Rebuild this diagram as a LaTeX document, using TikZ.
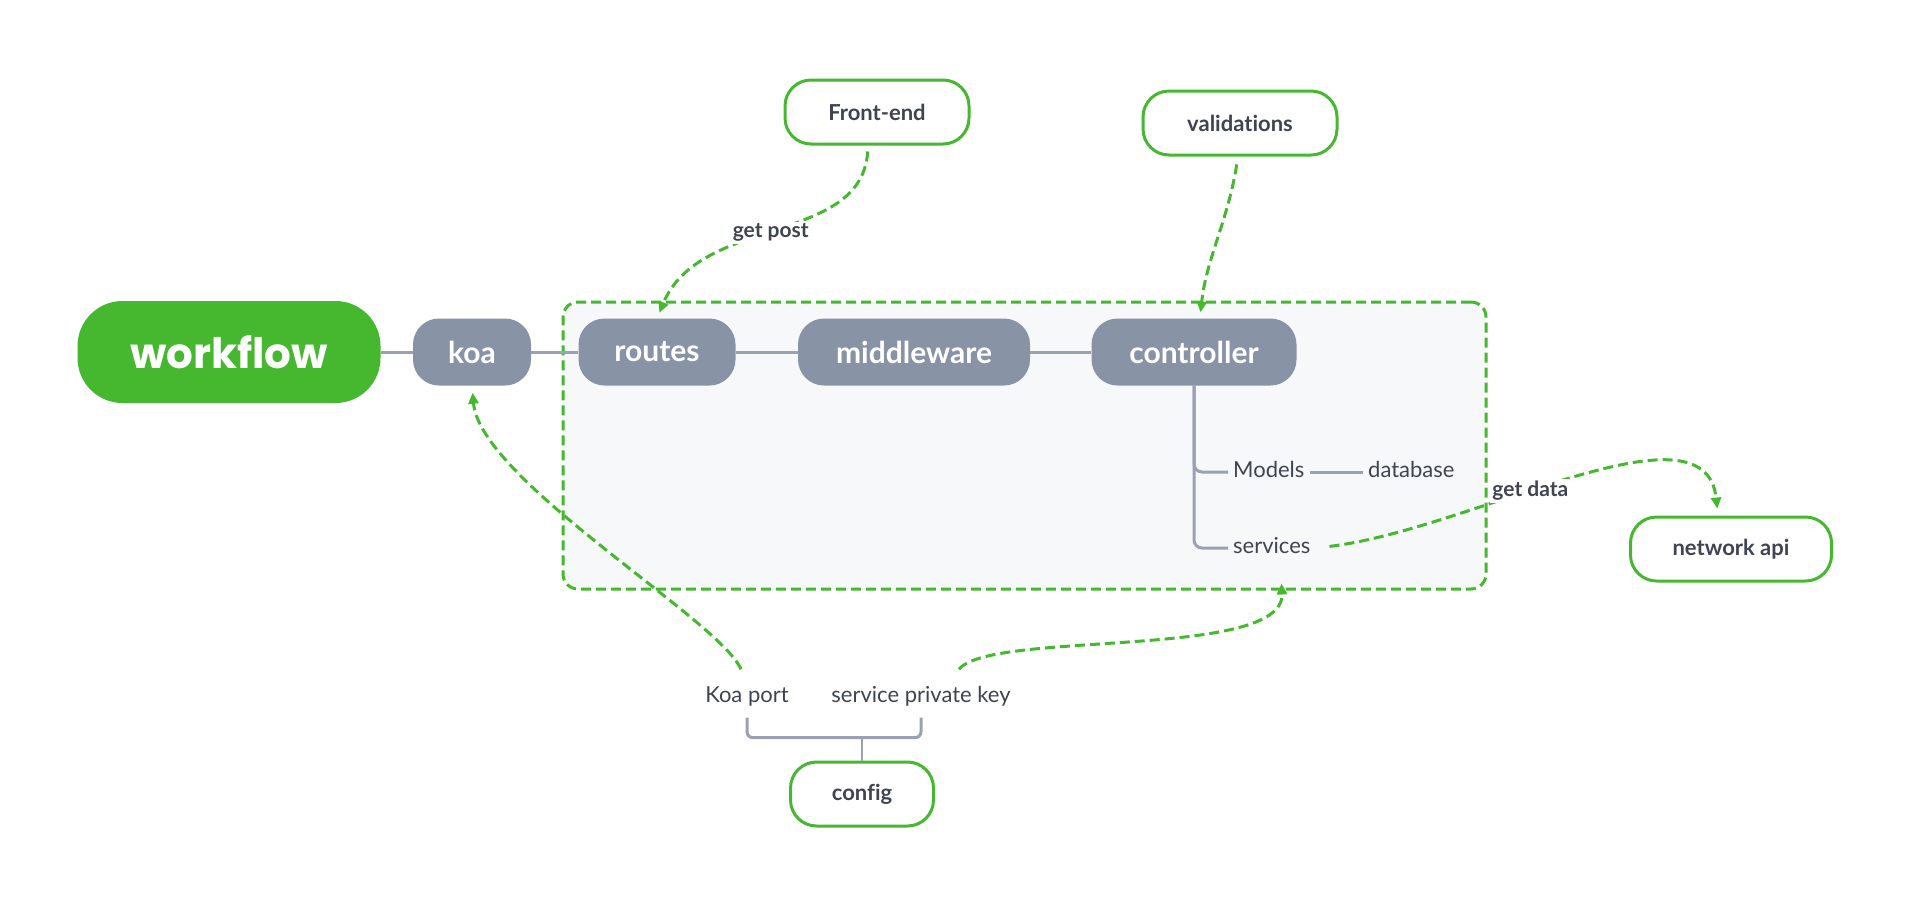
\documentclass[tikz,border=0pt]{standalone}
\usepackage{fontspec}
\setmainfont{Lato}[Ligatures=NoCommon]
\newfontfamily\wffont{Poppins}
\usetikzlibrary{arrows.meta}
\definecolor{xgreen}{HTML}{45B82F}
\definecolor{xgray}{HTML}{8993A6}
\definecolor{xline}{HTML}{9AA2B2}
\definecolor{xtext}{HTML}{3E4451}
\definecolor{xpanel}{HTML}{F6F8FA}

\begin{document}
\begin{tikzpicture}[x=1pt,y=-1pt,every node/.append style={text=xtext,inner xsep=0pt},
    topic/.style={fill=xgray,text=white,rounded corners=26pt,minimum height=67pt,
                  font=\fontsize{30}{36}\selectfont\bfseries},
    floating/.style={draw=xgreen,line width=3pt,fill=white,rounded corners=26pt,minimum height=64pt,
                  font=\fontsize{22}{26}\selectfont\bfseries},
    leaf/.style={inner sep=5pt,text height=16pt,text depth=5pt,font=\fontsize{22}{26}\selectfont},
    link/.style={draw=xline,line width=3pt},
    rel/.style={draw=xgreen,line width=3pt,dash pattern=on 10pt off 5pt,-{Triangle[length=11pt,width=10pt]}},
    rellabel/.style={fill=white,inner sep=2pt,font=\fontsize{21}{26}\selectfont\bfseries}]
    \useasboundingbox (0,0) rectangle (1911,906);
    \node (box) [draw=xgreen,fill=xpanel,line width=3pt,dash pattern=on 10pt off 5pt,rounded corners=15pt,
                 minimum width=923pt,minimum height=287pt] at (1024.5,445.5) {};
    \node (wf) [fill=xgreen,text=white,rounded corners=45pt,minimum width=303pt,minimum height=102pt,
                font=\wffont\fontsize{42}{50}\selectfont\bfseries] at (229,352) {workflow};
    \node (koa)    [topic,minimum width=118pt] at (472,352)  {koa};
    \node (routes) [topic,minimum width=157pt] at (657,352)  {routes};
    \node (mid)    [topic,minimum width=232pt] at (914,352)  {middleware};
    \node (ctrl)   [topic,minimum width=205pt] at (1194,352) {controller};
    \draw[link] (wf) -- (koa);
    \draw[link] (koa) -- (routes);
    \draw[link] (routes) -- (mid);
    \draw[link] (mid) -- (ctrl);
    \node (models) [leaf,anchor=west] at (1228,472) {Models};
    \node (db)     [leaf,anchor=west] at (1363,472) {database};
    \node (serv)   [leaf,anchor=west] at (1228,548) {services};
    \draw[link,rounded corners=8pt] (ctrl.south) |- (models.west);
    \draw[link,rounded corners=8pt] (ctrl.south) |- (serv.west);
    \draw[link] (models) -- (db);
    \node (fe)   [floating,minimum width=184pt] at (877,112)  {Front-end};
    \node (val)  [floating,minimum width=194pt] at (1240,123) {validations};
    \node (napi) [floating,minimum width=201pt] at (1731,549) {network api};
    \node (cfg)  [floating,minimum width=143pt] at (862,794)  {config};
    \node (kport) [leaf] at (747,697) {Koa port};
    \node (spk)   [leaf] at (921,697) {service private key};
    \draw[link,rounded corners=6pt] ([yshift=-5pt]kport.south) -- ++(0,20) -| ([yshift=-5pt]spk.south);
    \draw[link,line width=2pt] (cfg.north) -- ++(0,-24);
    \draw[rel,shorten <=6pt,shorten >=6pt] ([xshift=-9pt]fe.south) .. controls (862,245) and (700,215) ..
          node[rellabel,pos=0.52] {get post} (routes.north);
    \draw[rel,shorten <=8pt,shorten >=6pt] ([xshift=-2pt]val.south) .. controls (1228,220) and (1206,260) .. ([xshift=6pt]ctrl.north);
    \draw[rel,shorten >=7pt] ([xshift=-6pt,yshift=12pt]kport.north) .. controls (720,620) and (480,480) .. (koa.south);
    \draw[rel] ([xshift=38pt,yshift=12pt]spk.north) .. controls (990,630) and (1285,660) .. ([xshift=257pt,yshift=7pt]box.south);
    \draw[rel,shorten <=14pt,shorten >=7pt] (serv.east) .. controls (1470,530) and (1705,395) ..
          node[rellabel,pos=0.42] {get data} ([xshift=-13pt]napi.north);
\end{tikzpicture}
\end{document}
